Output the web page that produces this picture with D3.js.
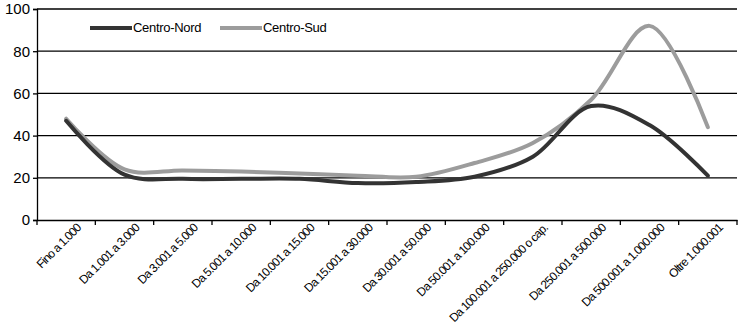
<!DOCTYPE html>
<html><head><meta charset="utf-8">
<script src="https://cdn.jsdelivr.net/npm/d3@7"></script>
<style>
body{margin:0;background:#fff;}
svg{display:block;font-family:"Liberation Sans",Arial,sans-serif;}
</style></head>
<body><svg id="c" width="745" height="335"></svg>
<script>
const categories = ["Fino a 1.000","Da 1.001 a 3.000","Da 3.001 a 5.000","Da 5.001 a 10.000","Da 10.001 a 15.000","Da 15.001 a 30.000","Da 30.001 a 50.000","Da 50.001 a 100.000","Da 100.001 a 250.000 o cap.","Da 250.001 a 500.000","Da 500.001 a 1.000.000","Oltre 1.000.001"];
const centroNord = [47, 21.5, 19.5, 19.5, 19.5, 17.5, 18, 20.5, 30, 54, 45, 21];
const centroSud  = [48, 24, 23.5, 23, 22, 21, 20.5, 27, 36.5, 57, 92, 44];
const yTicks = [0, 20, 40, 60, 80, 100];
const seriesNames = ["Centro-Nord", "Centro-Sud"];

const svg = d3.select("#c");
const m = {l:37, r:8, t:9, b:115};
const W = 745, H = 335;
const x = d3.scaleBand().domain(categories).range([m.l, W - m.r]).padding(0);
const y = d3.scaleLinear().domain([0, 100]).range([H - m.b, m.t]);

// gridlines
svg.append("g").selectAll("line").data(yTicks.filter(d => d > 0)).join("line")
  .attr("x1", m.l).attr("x2", W - m.r)
  .attr("y1", d => y(d)).attr("y2", d => y(d))
  .attr("stroke", "#000").attr("stroke-width", 1.3);

// y axis
const ya = svg.append("g").attr("transform", `translate(${m.l},0)`)
  .call(d3.axisLeft(y).tickValues(yTicks).tickSize(4).tickPadding(3));
ya.select(".domain").attr("stroke", "#000").attr("stroke-width", 1.3);
ya.selectAll(".tick line").attr("stroke", "#000").attr("stroke-width", 1.3);
ya.selectAll("text").attr("font-size", 15).attr("fill", "#000").attr("font-family", "Liberation Sans, Arial, sans-serif");

// x axis
const xa = svg.append("g").attr("transform", `translate(0,${y(0)})`)
  .call(d3.axisBottom(x).tickSize(0).tickPadding(8));
xa.select(".domain").attr("stroke", "#000").attr("stroke-width", 1.3);
xa.selectAll("text")
  .attr("font-size", 12).attr("letter-spacing", "-0.8px").attr("fill", "#000")
  .attr("font-family", "Liberation Sans, Arial, sans-serif")
  .attr("text-anchor", "end")
  .attr("dy", "0.35em")
  .attr("transform", "translate(7,0) rotate(-45)");
// boundary ticks
const bounds = categories.map(c => x(c)).concat([x(categories[categories.length-1]) + x.bandwidth()]);
svg.append("g").selectAll("line").data(bounds).join("line")
  .attr("x1", d => d).attr("x2", d => d)
  .attr("y1", y(0)).attr("y2", y(0) + 5)
  .attr("stroke", "#000").attr("stroke-width", 1.3);

const cx = c => x(c) + x.bandwidth() / 2;
const line = d3.line().x((d, i) => cx(categories[i])).y(d => y(d)).curve(d3.curveCatmullRom.alpha(0.5));

svg.append("path").datum(centroSud).attr("d", line)
  .attr("fill", "none").attr("stroke", "#9c9c9c").attr("stroke-width", 4).attr("stroke-linecap", "round");
svg.append("path").datum(centroNord).attr("d", line)
  .attr("fill", "none").attr("stroke", "#333").attr("stroke-width", 4).attr("stroke-linecap", "round");

// legend
const colors = ["#333", "#9c9c9c"];
const leg = svg.append("g");
const lx = [90, 220];
seriesNames.forEach((n, i) => {
  leg.append("line").attr("x1", lx[i]).attr("x2", lx[i] + 42).attr("y1", 28).attr("y2", 28)
    .attr("stroke", colors[i]).attr("stroke-width", 4);
  leg.append("text").attr("x", lx[i] + 43).attr("y", 32).attr("font-size", 13)
    .attr("letter-spacing", "-0.3px").attr("fill", "#000").text(n);
});
</script></body></html>
